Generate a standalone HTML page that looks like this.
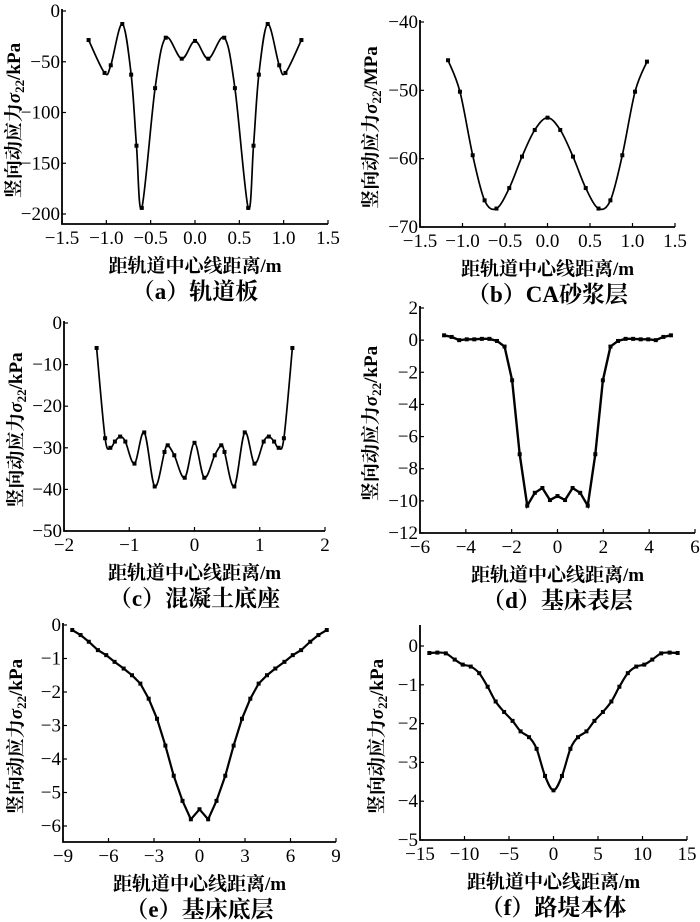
<!DOCTYPE html>
<html><head><meta charset="utf-8"><style>
body{margin:0;background:#fff}
svg{display:block}
.tk{font-family:"Liberation Serif","Noto Serif CJK SC",serif;font-size:19px;fill:#000}
.ttl{font-family:"Liberation Serif","Noto Serif CJK SC",serif;font-size:19px;font-weight:bold;fill:#000}
.cap{font-family:"Liberation Serif","Noto Serif CJK SC",serif;font-size:23px;font-weight:bold;fill:#000}
</style></head><body>
<svg id="c" width="700" height="922" viewBox="0 0 700 922" xmlns="http://www.w3.org/2000/svg"></svg>
<script>
// Panel (a)
const aX=[-1.2,-1.02,-0.95,-0.82,-0.72,-0.66,-0.6,-0.45,-0.33,-0.15,0,0.15,0.33,0.45,0.6,0.66,0.72,0.82,0.95,1.02,1.2];
const aY=[-28.6,-61,-53.5,-12.8,-62.7,-132.7,-194,-76,-26.3,-47,-29.5,-47,-26.3,-76,-194,-132.7,-62.7,-12.8,-53.5,-61,-28.6];
const aXT=[-1.5,-1.0,-0.5,0.0,0.5,1.0,1.5];const aXL=["−1.5","−1.0","−0.5","0.0","0.5","1.0","1.5"];
const aYT=[0,-50,-100,-150,-200];const aYL=["0","−50","−100","−150","−200"];
// Panel (b)
const bX=[-1.17,-1.03,-0.88,-0.74,-0.6,-0.45,-0.3,-0.15,0,0.15,0.3,0.45,0.6,0.74,0.88,1.03,1.17];
const bY=[-45.6,-50.2,-59.5,-66.1,-67.3,-64.3,-59.7,-55.8,-54,-55.8,-59.7,-64.3,-67.3,-66.1,-59.5,-50.2,-45.8];
const bXT=[-1.5,-1.0,-0.5,0.0,0.5,1.0,1.5];const bXL=["−1.5","−1.0","−0.5","0.0","0.5","1.0","1.5"];
const bYT=[-40,-50,-60,-70];const bYL=["−40","−50","−60","−70"];
// Panel (c)
const cX=[-1.5,-1.37,-1.29,-1.22,-1.14,-1.06,-0.92,-0.77,-0.61,-0.46,-0.41,-0.31,-0.15,0,0.15,0.31,0.41,0.46,0.61,0.77,0.92,1.06,1.14,1.22,1.29,1.37,1.5];
const cY=[-6,-27.7,-30,-28.5,-27.3,-28.5,-33.8,-26.3,-39.3,-31,-29.4,-31.8,-37.2,-28.8,-37.2,-31.8,-29.4,-31,-39.3,-26.3,-33.8,-28.5,-27.3,-28.5,-30,-27.7,-6];
const cXT=[-2,-1,0,1,2];const cXL=["−2","−1","0","1","2"];
const cYT=[0,-10,-20,-30,-40,-50];const cYL=["0","−10","−20","−30","−40","−50"];
// Panel (d)
const dX=[-4.95,-4.62,-4.29,-3.96,-3.63,-3.3,-2.97,-2.64,-2.31,-1.98,-1.65,-1.32,-0.99,-0.66,-0.33,0,0.33,0.66,0.99,1.32,1.65,1.98,2.31,2.64,2.97,3.3,3.63,3.96,4.29,4.62,4.95];
const dY=[0.3,0.2,0,0.05,0.05,0.08,0.08,-0.05,-0.4,-2.5,-7.1,-10.3,-9.5,-9.2,-9.95,-9.7,-9.95,-9.2,-9.5,-10.3,-7.1,-2.5,-0.4,-0.05,0.08,0.08,0.05,0.05,0,0.2,0.3];
const dXT=[-6,-4,-2,0,2,4,6];const dXL=["−6","−4","−2","0","2","4","6"];
const dYT=[2,0,-2,-4,-6,-8,-10,-12];const dYL=["2","0","−2","−4","−6","−8","−10","−12"];
// Panel (e)
const eX=[-8.39,-7.84,-7.3,-6.7,-6.15,-5.6,-5.0,-4.45,-3.9,-3.35,-2.8,-2.25,-1.7,-1.12,-0.57,0,0.57,1.12,1.7,2.25,2.8,3.35,3.9,4.45,5.0,5.6,6.15,6.7,7.3,7.84,8.39];
const eY=[-0.15,-0.3,-0.5,-0.75,-0.9,-1.1,-1.3,-1.5,-1.75,-2.2,-2.8,-3.6,-4.5,-5.25,-5.8,-5.5,-5.8,-5.25,-4.5,-3.6,-2.8,-2.2,-1.75,-1.5,-1.3,-1.1,-0.9,-0.75,-0.5,-0.3,-0.15];
const eXT=[-9,-6,-3,0,3,6,9];const eXL=["−9","−6","−3","0","3","6","9"];
const eYT=[0,-1,-2,-3,-4,-5,-6];const eYL=["0","−1","−2","−3","−4","−5","−6"];
// Panel (f)
const fX=[-13.95,-13.05,-12.1,-11.1,-10.2,-9.3,-8.35,-7.4,-6.5,-5.55,-4.6,-3.7,-2.75,-1.9,-0.95,0,0.95,1.9,2.75,3.7,4.6,5.55,6.5,7.4,8.35,9.3,10.2,11.1,12.1,13.05,13.95];
const fY=[-0.18,-0.17,-0.19,-0.35,-0.48,-0.53,-0.7,-1.05,-1.43,-1.7,-1.93,-2.2,-2.35,-2.65,-3.35,-3.72,-3.35,-2.65,-2.35,-2.2,-1.93,-1.7,-1.43,-1.05,-0.7,-0.53,-0.48,-0.35,-0.19,-0.17,-0.18];
const fXT=[-15,-10,-5,0,5,10,15];const fXL=["−15","−10","−5","0","5","10","15"];
const fYT=[0,-1,-2,-3,-4,-5];const fYL=["0","−1","−2","−3","−4","−5"];

const NS="http://www.w3.org/2000/svg";
const svg=document.getElementById('c');
function mk(t,a,p){const e=document.createElementNS(NS,t);for(const k in a)e.setAttribute(k,a[k]);(p||svg).appendChild(e);return e;}
function catmull(pts){let d="M"+pts[0][0]+","+pts[0][1];
 for(let i=0;i<pts.length-1;i++){const p0=pts[i-1]||pts[i],p1=pts[i],p2=pts[i+1],p3=pts[i+2]||p2;
  const c1=[p1[0]+(p2[0]-p0[0])/6,p1[1]+(p2[1]-p0[1])/6],c2=[p2[0]-(p3[0]-p1[0])/6,p2[1]-(p3[1]-p1[1])/6];
  d+=" C"+c1[0]+","+c1[1]+" "+c2[0]+","+c2[1]+" "+p2[0]+","+p2[1];}return d;}
function panel(o){
 const g=mk('g',{});
 
 
 const sx=v=>o.x0+(v-o.xmin)/(o.xmax-o.xmin)*(o.x1-o.x0);
 const sy=v=>o.yA+(v-o.vA)/(o.vB-o.vA)*(o.yB-o.yA);
 const ax=mk('path',{d:`M${o.x0},${o.top} V${o.bot} H${o.x1}`,fill:'none',stroke:'#000','stroke-width':1.8},g);
 
 
 o.xt.forEach((v,i)=>{const x=sx(v);mk('line',{x1:x,x2:x,y1:o.bot,y2:o.bot-4,stroke:'#000','stroke-width':1.2},g);
  const t=mk('text',{x:x,y:o.bot+20,'text-anchor':'middle',class:'tk'},g);t.textContent=o.xl[i];
  
  });
 o.yt.forEach((v,i)=>{const y=sy(v);mk('line',{x1:o.x0,x2:o.x0+4,y1:y,y2:y,stroke:'#000','stroke-width':1.2},g);
  const t=mk('text',{x:o.x0-2,y:y+6,'text-anchor':'end',class:'tk'},g);t.textContent=o.yl[i];
  
  });
 const pts=o.X.map((v,i)=>[sx(v),sy(o.Y[i])]);
 const d=o.smooth?catmull(pts):"M"+pts.map(p=>p[0]+","+p[1]).join(" L");
 const ln=mk('path',{d:d,fill:'none',stroke:'#000','stroke-width':o.lw||1.7},g);
 
 
 pts.forEach(p=>{const m=mk('rect',{x:p[0]-2,y:p[1]-2,width:4,height:4,fill:'#000'},g);
  
  });
 const xt=mk('text',{x:(o.x0+o.x1)/2,y:o.bot+48,'text-anchor':'middle',class:'ttl'},g);xt.textContent="距轨道中心线距离/m";
 
 
 const cy=(o.top+o.bot)/2+4;
 const yt=mk('text',{x:o.ytx,y:cy,'text-anchor':'middle',class:'ttl',transform:`rotate(-90 ${o.ytx} ${cy})`},g);
 yt.innerHTML="竖向动应力<tspan font-style='italic'>σ</tspan><tspan font-size='13' dy='4'>22</tspan><tspan dy='-4'>/"+o.unit+"</tspan>";
 
 
 const cp=mk('text',{x:(o.x0+o.x1)/2,y:o.bot+75,'text-anchor':'middle',class:'cap'},g);cp.textContent=o.cap;
 
 
}
panel({name:'panel-a',X:aX,Y:aY,xt:aXT,xl:aXL,yt:aYT,yl:aYL,xmin:-1.5,xmax:1.5,x0:62,x1:328,top:9,bot:224,vA:0,vB:-200,yA:11,yB:214,smooth:true,ytx:20,unit:'kPa',cap:'（a）轨道板'});
panel({name:'panel-b',X:bX,Y:bY,xt:bXT,xl:bXL,yt:bYT,yl:bYL,xmin:-1.5,xmax:1.5,x0:420,x1:675,top:20,bot:227,vA:-40,vB:-70,yA:22,yB:227,smooth:true,ytx:377,unit:'MPa',cap:'（b）CA砂浆层'});
panel({name:'panel-c',X:cX,Y:cY,xt:cXT,xl:cXL,yt:cYT,yl:cYL,xmin:-2,xmax:2,x0:64,x1:325,top:321,bot:531,vA:0,vB:-50,yA:323,yB:531,smooth:true,ytx:22,unit:'kPa',cap:'（c）混凝土底座'});
panel({name:'panel-d',X:dX,Y:dY,xt:dXT,xl:dXL,yt:dYT,yl:dYL,xmin:-6,xmax:6,x0:420,x1:695,top:306,bot:533,vA:2,vB:-12,yA:308,yB:533,smooth:false,lw:2.4,ytx:377,unit:'kPa',cap:'（d）基床表层'});
panel({name:'panel-e',X:eX,Y:eY,xt:eXT,xl:eXL,yt:eYT,yl:eYL,xmin:-9,xmax:9,x0:63,x1:336,top:623,bot:842,vA:0,vB:-6,yA:625,yB:826,smooth:false,lw:2.2,ytx:22,unit:'kPa',cap:'（e）基床底层'});
panel({name:'panel-f',X:fX,Y:fY,xt:fXT,xl:fXL,yt:fYT,yl:fYL,xmin:-15,xmax:15,x0:420,x1:687,top:625,bot:840,vA:0,vB:-5,yA:646,yB:840,smooth:true,lw:2.2,ytx:383,unit:'kPa',cap:'（f）路堤本体'});
</script>
</body></html>
